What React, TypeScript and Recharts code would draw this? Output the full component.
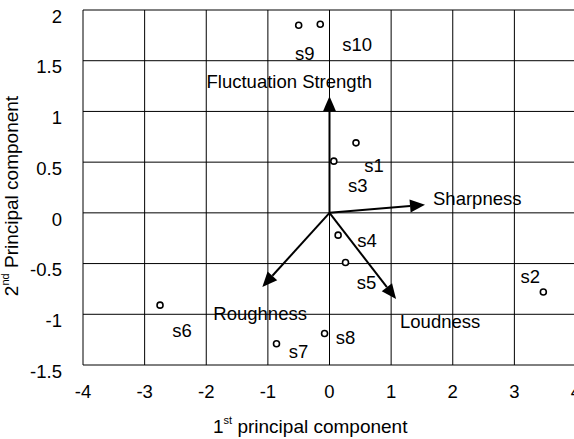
import { ScatterChart, Scatter, XAxis, YAxis, CartesianGrid, ReferenceLine } from 'recharts'

const FONT = '"Liberation Sans", Arial, Helvetica, sans-serif'

// sample scores on the first two principal components
const sampleNames = ['s1', 's2', 's3', 's4', 's5', 's6', 's7', 's8', 's9', 's10']
const pc1 = [0.43, 3.47, 0.07, 0.14, 0.26, -2.75, -0.86, -0.08, -0.5, -0.15]
const pc2 = [0.69, -0.78, 0.51, -0.22, -0.49, -0.91, -1.29, -1.19, 1.85, 1.86]

// loading vectors
const vectorNames = ['Fluctuation Strength', 'Sharpness', 'Roughness', 'Loudness']
const vectorX = [0.0, 1.55, -1.09, 1.08]
const vectorY = [1.15, 0.08, -0.73, -0.85]

const xTicks = [-4, -3, -2, -1, 0, 1, 2, 3, 4]
const yTicks = [-1.5, -1, -0.5, 0, 0.5, 1, 1.5, 2]

// where each text sits relative to its mark, in px
const sampleLabelOffset: [number, number][] = [
  [18, 22], [-13, -16], [24, 24], [29, 5], [21, 20],
  [22, 25], [22, 8], [21, 4], [6, 28], [37, 20],
]
const vectorLabelOffset: [number, number][] = [[-123, -8], [8, 0], [-49, 33], [4, 29]]

const points = sampleNames.map((name, i) => ({ name, x: pc1[i], y: pc2[i], i }))

const SampleDot = (props: any) => {
  const { cx, cy, payload } = props
  const [dx, dy] = sampleLabelOffset[payload.i]
  return (
    <g>
      <circle cx={cx} cy={cy} r={3} fill="#fff" stroke="#000" strokeWidth={1.6} />
      <text x={cx + dx} y={cy + dy} dy="0.36em" textAnchor="middle" fontSize={18.5} fontFamily={FONT} fill="#000">
        {payload.name}
      </text>
    </g>
  )
}

const makeArrow = (i: number) => (props: any) => {
  const { x1, y1, x2, y2 } = props
  const ang = Math.atan2(y2 - y1, x2 - x1)
  const len = 15
  const hw = 6.5
  const bx = x2 - len * Math.cos(ang)
  const by = y2 - len * Math.sin(ang)
  const px = -Math.sin(ang) * hw
  const py = Math.cos(ang) * hw
  const [dx, dy] = vectorLabelOffset[i]
  return (
    <g>
      <line x1={x1} y1={y1} x2={bx} y2={by} stroke="#000" strokeWidth={2} />
      <polygon points={`${x2},${y2} ${bx + px},${by + py} ${bx - px},${by - py}`} fill="#000" />
      <text x={x2 + dx} y={y2 + dy} fontSize={18.5} fontFamily={FONT} fill="#000">
        {vectorNames[i]}
      </text>
    </g>
  )
}

const XTick = (props: any) => {
  const { x, y, payload } = props
  return (
    <text x={x} y={y} dy="0.71em" textAnchor="middle" fontSize={18.5} fontFamily={FONT} fill="#000">
      {payload.value}
    </text>
  )
}

const YTick = (props: any) => {
  const { x, y, payload } = props
  return (
    <text x={x} y={y + 6} dy="0.36em" textAnchor="end" fontSize={18.5} fontFamily={FONT} fill="#000">
      {payload.value}
    </text>
  )
}

export default function App() {
  return (
    <div style={{ position: 'absolute', left: 0, top: 0, width: 574, height: 439, overflow: 'hidden', background: '#fff' }}>
      <ScatterChart width={600} height={439} margin={{ top: 10, right: 24, bottom: 0, left: 0 }}>
        <CartesianGrid stroke="#000" strokeWidth={1} />
        <XAxis
          type="number"
          dataKey="x"
          domain={[-4, 4]}
          ticks={xTicks}
          allowDataOverflow
          height={74}
          axisLine={false}
          tickLine={false}
          tickSize={0}
          tickMargin={20}
          tick={<XTick />}
        />
        <YAxis
          type="number"
          dataKey="y"
          domain={[-1.5, 2]}
          ticks={yTicks}
          allowDataOverflow
          width={83}
          axisLine={false}
          tickLine={false}
          tickSize={0}
          tickMargin={21}
          tick={<YTick />}
        />
        {vectorNames.map((n, i) => (
          <ReferenceLine
            key={n}
            segment={[{ x: 0, y: 0 }, { x: vectorX[i], y: vectorY[i] }]}
            stroke="#000"
            shape={makeArrow(i)}
          />
        ))}
        <Scatter data={points} shape={<SampleDot />} isAnimationActive={false} />
        <text x={213} y={433} fontSize={19} fontFamily={FONT} fill="#000">
          <tspan>1</tspan>
          <tspan fontSize={11} dy={-9}>st</tspan>
          <tspan dy={9}> principal component</tspan>
        </text>
        <g transform="translate(18, 196) rotate(-90)">
          <text x={0} y={0} textAnchor="middle" fontSize={19} fontFamily={FONT} fill="#000">
            <tspan>2</tspan>
            <tspan fontSize={11} dy={-9}>nd</tspan>
            <tspan dy={9}> Principal component</tspan>
          </text>
        </g>
      </ScatterChart>
    </div>
  )
}
